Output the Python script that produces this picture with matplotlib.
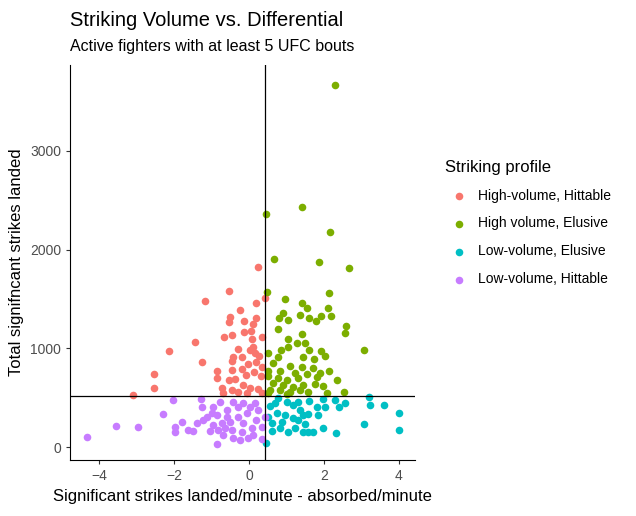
import matplotlib
matplotlib.use("Agg")
import matplotlib.pyplot as plt
plt.rcParams['font.family'] = ['Liberation Sans', 'DejaVu Sans']

red_x = [0.25,-0.52,-1.17,0.19,0.43,-0.23,-0.5,-0.13,0.19,-0.52,0.1,0.06,-0.13,-0.45,-0.67,0.35,0.08,-1.43,-2.13,0.11,-0.28,0.03,0.16,-0.18,-0.42,0.27,-1.25,-0.02,-0.45,0.19,0.34,-0.85,-0.45,-0.19,0.14,-0.86,-0.52,-0.36,-0.09,0.31,-2.53,-2.53,-3.09,-0.73,-0.46,-0.15,0.03,0.25,-0.28,-0.69,0.34,-0.06]
red_y = [1820,1577,1476,1456,1506,1385,1314,1273,1304,1263,1246,1178,1165,1131,1111,1111,1097,1064,970,1016,990,983,949,915,915,922,858,838,874,864,814,767,780,790,763,702,679,686,729,719,736,598,524,595,577,628,595,585,560,544,544,550]
green_x = [2.29,1.41,0.45,2.17,0.67,1.87,2.67,0.49,2.14,0.96,1.41,1.54,2.11,0.91,1.36,1.61,1.92,2.19,0.8,1.05,1.79,2.59,2.56,0.77,1.41,1.05,1.27,1.49,1.05,0.85,1.61,3.07,1.92,0.51,2.03,0.78,1.45,1.74,0.65,1.09,1.41,1.71,2.14,0.51,0.83,1.23,1.54,1.89,0.51,0.78,1.01,1.31,1.81,2.35,0.65,0.91,1.18,1.45,1.76,1.98,0.56,0.83,1.09,1.36,1.58,2.07,2.54,1.01,0.51]
green_y = [3672,2432,2361,2178,1902,1871,1811,1567,1557,1497,1462,1411,1405,1355,1337,1310,1331,1327,1304,1287,1277,1226,1152,1192,1145,1091,1051,1057,1010,983,983,983,976,949,922,915,909,889,848,821,808,797,770,773,773,753,740,746,719,696,679,696,712,679,645,628,611,628,638,618,577,577,560,577,560,544,560,537,544]
cyan_x = [3.21,3.23,3.6,4.01,4.01,3.07,2.32,2.56,2.41,2.29,1.98,2.03,1.85,1.98,1.61,1.58,1.49,1.71,1.45,1.23,1.36,1.18,1.01,0.78,0.56,0.74,0.96,1.18,1.31,0.87,0.61,1.05,0.83,0.61,0.45,0.51,1.45,1.58,1.81,1.31,0.69]
cyan_y = [506,425,432,351,169,230,139,443,408,476,483,408,324,189,469,331,230,155,155,189,375,425,459,493,415,341,324,291,274,256,240,155,189,162,44,307,324,155,408,456,443]
purple_x = [-2.02,-1.28,-2.29,-3.55,-2.95,-4.31,-1.97,-1.97,-1.78,-1.62,-1.49,-1.39,-0.85,-1.04,-1.26,-0.95,-0.77,-1.13,-0.86,-0.59,-0.42,-0.15,0.16,-0.06,-0.28,-0.51,-0.73,-0.95,-1.22,0.2,0.07,0.34,-0.19,-0.46,-0.69,-0.42,-0.02,0.34,0.25,0.03,-0.28,-0.59,0.42,-0.15,0.11,-0.24,-0.99,-0.64,-0.82]
purple_y = [473,486,331,213,200,98,206,155,250,169,159,246,37,162,408,408,459,307,324,375,459,443,443,341,307,256,240,223,274,274,189,206,155,172,122,88,88,78,375,408,408,307,307,240,122,71,341,189,172]

groups = [("High-volume, Hittable", red_x, red_y, "#F8766D"),
          ("High volume, Elusive", green_x, green_y, "#7CAE00"),
          ("Low-volume, Elusive", cyan_x, cyan_y, "#00BFC4"),
          ("Low-volume, Hittable", purple_x, purple_y, "#C77CFF")]

fig = plt.figure(figsize=(6.36, 5.16), dpi=100)
ax = fig.add_axes([70/636, 56/516, 345/636, 395/516])
for name, xs, ys, c in groups:
    ax.scatter(xs, ys, s=30, color=c, label=name, linewidths=0)
ax.axvline(0.43, color="black", lw=0.9)
ax.axhline(515, color="black", lw=0.9)
ax.set_xlim(-4.77, 4.43)
ax.set_ylim(-130, 3870)
ax.set_xticks([-4, -2, 0, 2, 4])
ax.set_yticks([0, 1000, 2000, 3000])
for s in ["top", "right"]:
    ax.spines[s].set_visible(False)
ax.tick_params(labelsize=10, colors="#333333", length=3)
ax.tick_params(labelcolor="#4D4D4D")
ax.set_xlabel("Significant strikes landed/minute - absorbed/minute", fontsize=12, labelpad=4)
ax.set_ylabel("Total signifncant strikes landed", fontsize=12, labelpad=4)
fig.text(70/636, 1-20/516, "Striking Volume vs. Differential", fontsize=14.5, va="center")
fig.text(70/636, 1-47/516, "Active fighters with at least 5 UFC bouts", fontsize=11.5, va="center")
leg = ax.legend(title="Striking profile", loc="center left", bbox_to_anchor=(1.05, 0.6),
                frameon=False, fontsize=10, title_fontsize=12, markerscale=1.0,
                handletextpad=0.4, labelspacing=1.0)
leg._legend_box.align = "left"
fig.savefig("out.png", dpi=100)
